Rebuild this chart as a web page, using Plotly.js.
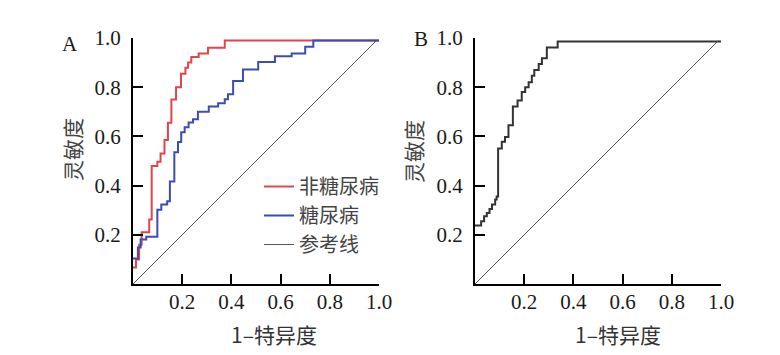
<!DOCTYPE html>
<html>
<head>
<meta charset="utf-8">
<script src="https://cdn.plot.ly/plotly-3.0.1.min.js"></script>
<style>html,body{margin:0;padding:0;background:#fff;}#chart{width:780px;height:355px;}</style>
</head>
<body>
<div id="chart"></div>
<script>
// Panel A: ROC of non-diabetic (red) and diabetic (blue) groups; step vertices (1-specificity, sensitivity)
const nonDiabetesFPR = [0, 0.012, 0.025, 0.035, 0.066, 0.076, 0.099, 0.112, 0.128, 0.142, 0.156, 0.175, 0.195, 0.213, 0.224, 0.237, 0.267, 0.305, 0.373, 1.0];
const nonDiabetesTPR = [0.067, 0.10, 0.16, 0.21, 0.262, 0.48, 0.497, 0.53, 0.585, 0.655, 0.75, 0.80, 0.855, 0.879, 0.90, 0.923, 0.937, 0.96, 0.99, 0.99];

const diabetesFPR = [0, 0.02, 0.031, 0.054, 0.099, 0.115, 0.139, 0.15, 0.168, 0.183, 0.196, 0.21, 0.226, 0.244, 0.264, 0.308, 0.346, 0.373, 0.386, 0.407, 0.447, 0.509, 0.577, 0.645, 0.70, 0.733, 1.0];
const diabetesTPR = [0.104, 0.148, 0.181, 0.192, 0.302, 0.323, 0.336, 0.417, 0.536, 0.577, 0.617, 0.637, 0.657, 0.67, 0.70, 0.722, 0.735, 0.751, 0.771, 0.825, 0.872, 0.902, 0.926, 0.937, 0.964, 0.99, 0.99];

// Reference line (y = x)
const refX = [0, 0.99];
const refY = [0, 0.99];

// Panel B: ROC curve
const bFPR = [0, 0.025, 0.037, 0.048, 0.059, 0.069, 0.082, 0.088, 0.094, 0.109, 0.122, 0.136, 0.154, 0.173, 0.19, 0.204, 0.218, 0.231, 0.241, 0.259, 0.272, 0.292, 0.336, 1.0];
const bTPR = [0.238, 0.255, 0.275, 0.289, 0.305, 0.323, 0.343, 0.356, 0.551, 0.578, 0.598, 0.645, 0.722, 0.746, 0.78, 0.80, 0.82, 0.847, 0.87, 0.894, 0.918, 0.961, 0.986, 0.986];

const tickVals = [0.2, 0.4, 0.6, 0.8, 1.0];
const tickText = ['0.2', '0.4', '0.6', '0.8', '1.0'];

const seriesNames = ['非糖尿病', '糖尿病', '参考线'];
const panelLabels = ['A', 'B'];
const xTitle = '1–特异度';
const yTitle = '灵敏度';

const serif = 'Liberation Serif, Times New Roman, serif';
const cjk = 'Noto Sans CJK SC, sans-serif';

const traces = [
  {x: nonDiabetesFPR, y: nonDiabetesTPR, name: seriesNames[0], type: 'scatter', mode: 'lines',
   line: {color: '#e0454c', width: 2, shape: 'hv'}, xaxis: 'x', yaxis: 'y'},
  {x: diabetesFPR, y: diabetesTPR, name: seriesNames[1], type: 'scatter', mode: 'lines',
   line: {color: '#3b4db3', width: 2, shape: 'hv'}, xaxis: 'x', yaxis: 'y'},
  {x: refX, y: refY, name: seriesNames[2], type: 'scatter', mode: 'lines',
   line: {color: '#555555', width: 1}, xaxis: 'x', yaxis: 'y'},
  {x: bFPR, y: bTPR, name: 'B', type: 'scatter', mode: 'lines', showlegend: false,
   line: {color: '#333333', width: 2, shape: 'hv'}, xaxis: 'x2', yaxis: 'y2'},
  {x: refX, y: refY, name: seriesNames[2], type: 'scatter', mode: 'lines', showlegend: false,
   line: {color: '#555555', width: 1}, xaxis: 'x2', yaxis: 'y2'}
];

function axisStyle(domain, anchor) {
  return {
    domain: domain, anchor: anchor, range: [0, 1],
    showline: true, linecolor: '#000', linewidth: 2,
    ticks: 'inside', ticklen: 10, tickwidth: 2, tickcolor: '#000',
    tickvals: tickVals, ticktext: tickText,
    tickfont: {family: serif, size: 21, color: '#1a1a1a'},
    showgrid: false, zeroline: false, fixedrange: true
  };
}

function ann(text, px, py, font, angle) {
  return {text: text, x: px / 780, y: (355 - py) / 355, xref: 'paper', yref: 'paper',
          xanchor: 'center', yanchor: 'middle', showarrow: false, textangle: angle || 0, font: font};
}

const yDom = [71 / 355, 317 / 355];
const layout = {
  width: 780, height: 355,
  margin: {l: 0, r: 0, t: 0, b: 0},
  paper_bgcolor: '#ffffff', plot_bgcolor: '#ffffff',
  showlegend: true,
  xaxis: Object.assign(axisStyle([133 / 780, 379 / 780], 'y'), {ticklabelstandoff: -2}),
  yaxis: Object.assign(axisStyle(yDom, 'x'), {ticklabelstandoff: 6}),
  xaxis2: Object.assign(axisStyle([475 / 780, 721 / 780], 'y2'), {ticklabelstandoff: -2}),
  yaxis2: Object.assign(axisStyle(yDom, 'x2'), {ticklabelstandoff: 6}),
  legend: {
    x: 259 / 780, y: (355 - 167) / 355, xanchor: 'left', yanchor: 'top',
    bgcolor: 'rgba(0,0,0,0)', borderwidth: 0,
    font: {family: cjk, size: 20, color: '#444'},
    itemwidth: 30
  },
  annotations: [
    ann(panelLabels[0], 70, 44, {family: serif, size: 21, color: '#1a1a1a'}),
    ann(panelLabels[1], 421, 39, {family: serif, size: 21, color: '#1a1a1a'}),
    ann(yTitle, 72, 150, {family: cjk, size: 21, color: '#444'}, -90),
    ann(yTitle, 413, 152, {family: cjk, size: 21, color: '#444'}, -90),
    ann(xTitle, 274, 334, {family: cjk, size: 21, color: '#333'}),
    ann(xTitle, 618, 334, {family: cjk, size: 21, color: '#333'})
  ]
};

Plotly.newPlot('chart', traces, layout, {displayModeBar: false, staticPlot: true});
</script>
</body>
</html>
